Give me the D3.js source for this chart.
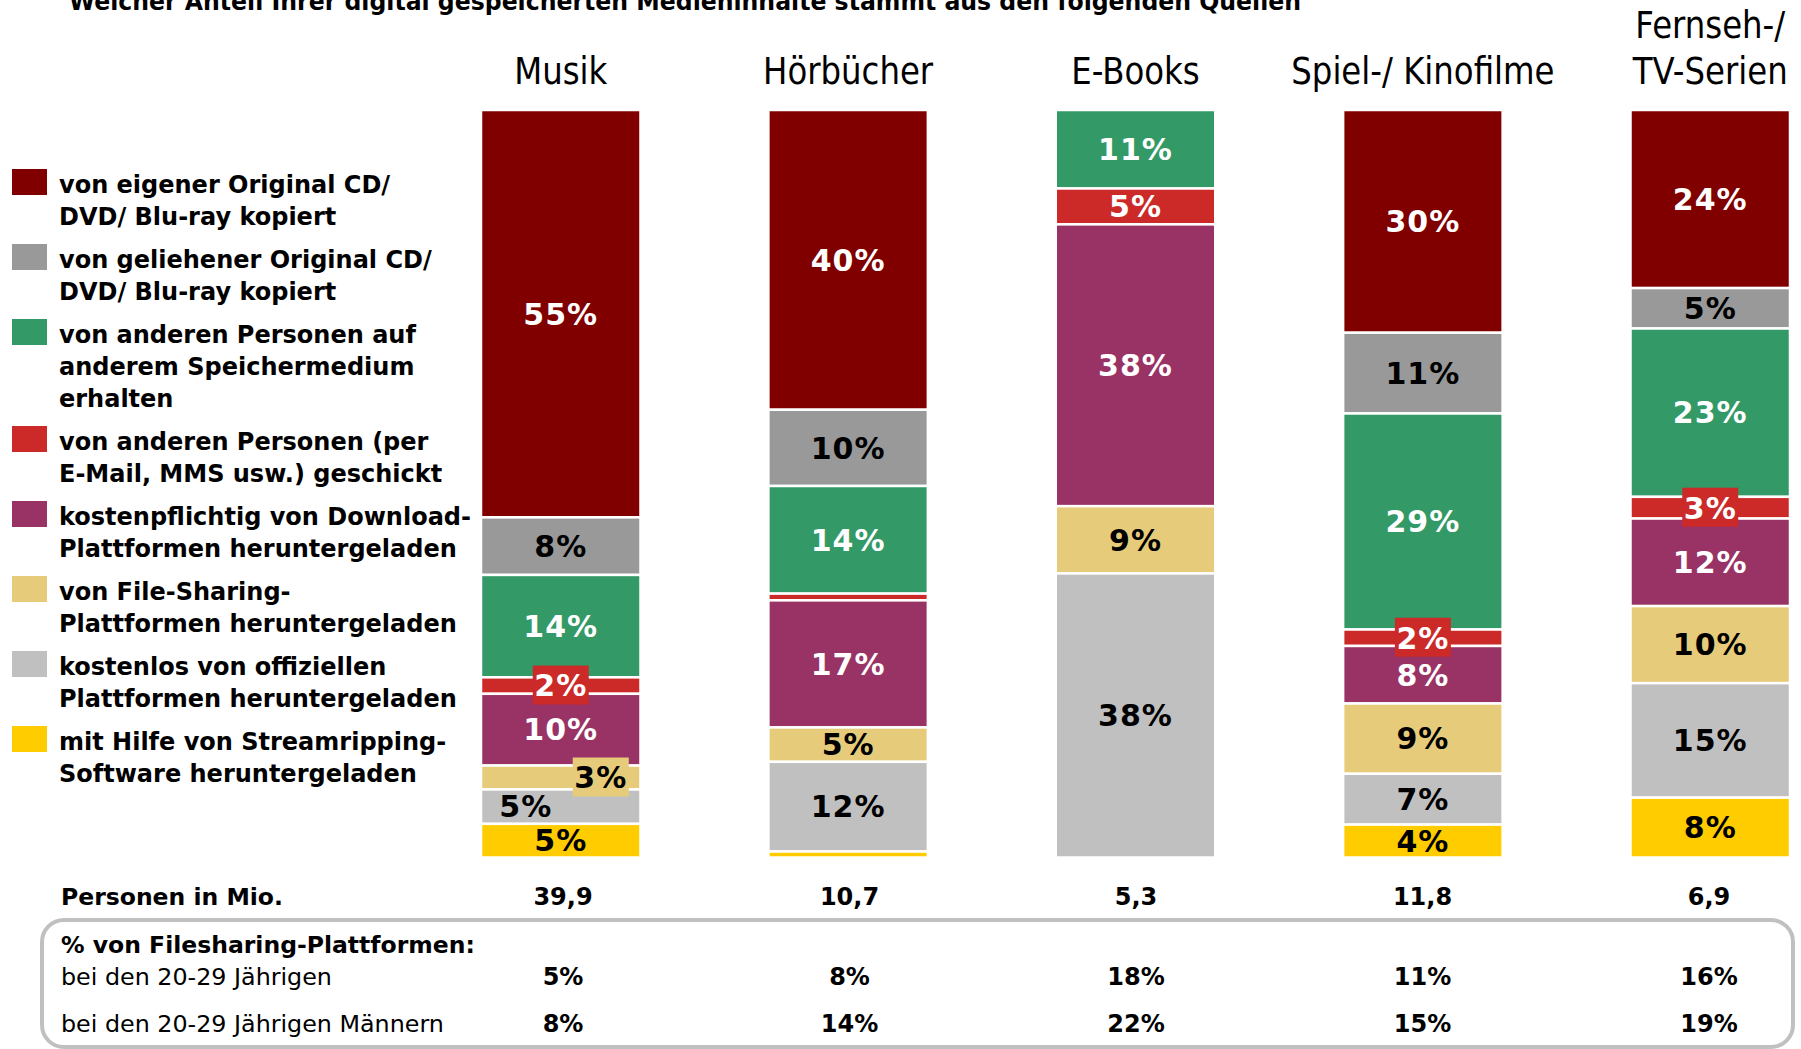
<!DOCTYPE html>
<html>
<head>
<meta charset="utf-8">
<script src="https://cdn.jsdelivr.net/npm/d3@7"></script>
<style>
  body { margin: 0; background: #fff; }
  svg { display: block; font-family: "DejaVu Sans", Verdana, sans-serif; }
</style>
</head>
<body>
<svg id="chart" width="1801" height="1049"></svg>
<script>
// categories (columns) and their title lines
let categories = ["Musik", "Hörbücher", "E-Books", "Spiel-/ Kinofilme", "Fernseh-/ TV-Serien"]
let categoryTitles = [["Musik"], ["Hörbücher"], ["E-Books"], ["Spiel-/ Kinofilme"], ["Fernseh-/", "TV-Serien"]]

// sources, top of the stack first
let sources = ["eigene", "geliehen", "Speichermedium", "geschickt", "kostenpflichtig", "FileSharing", "kostenlos", "Streamripping"]
let sourceLabels = [
    ["von eigener Original CD/", "DVD/ Blu-ray kopiert"],
    ["von geliehener Original CD/", "DVD/ Blu-ray kopiert"],
    ["von anderen Personen auf", "anderem Speichermedium", "erhalten"],
    ["von anderen Personen (per", "E-Mail, MMS usw.) geschickt"],
    ["kostenpflichtig von Download-", "Plattformen heruntergeladen"],
    ["von File-Sharing-", "Plattformen heruntergeladen"],
    ["kostenlos von offiziellen", "Plattformen heruntergeladen"],
    ["mit Hilfe von Streamripping-", "Software heruntergeladen"]
]
let sourceColors = ["#800000", "#999999", "#339966", "#cc2929", "#993366", "#e6cc7a", "#c0c0c0", "#ffcc00"]
let labelColors  = ["#fff", "#000", "#fff", "#fff", "#fff", "#000", "#000", "#000"]

// share in percent per source, one array per category (same order as sources),
// read off the segment heights; labels show the rounded value
let musik       = [54.5, 7.7, 13.7, 2.2, 9.6, 3.2, 4.6, 4.5]
let hoerbuecher = [40.1, 10.2, 14.4, 0.9, 17.0, 4.6, 12.0, 0.8]
let ebooks      = [0, 0, 10.5, 4.8, 37.7, 9.0, 38.0, 0]
let filme       = [29.8, 10.8, 28.9, 2.2, 7.7, 9.4, 6.8, 4.4]
let serien      = [23.8, 5.4, 22.5, 2.9, 11.7, 10.3, 15.3, 8.0]
let values = [musik, hoerbuecher, ebooks, filme, serien]

// table below the bars
let personenMio   = ["39,9", "10,7", "5,3", "11,8", "6,9"]
let fs2029        = ["5%", "8%", "18%", "11%", "16%"]
let fs2029Maenner = ["8%", "14%", "22%", "15%", "19%"]

let title = "Welcher Anteil Ihrer digital gespeicherten Medieninhalte stammt aus den folgenden Quellen"

let svg = d3.select("#chart")

let x = d3.scaleBand()
    .domain(categories)
    .range([481, 1790])
    .paddingInner(0.445)
    .paddingOuter(0)

let y = d3.scaleLinear()
    .domain([0, 1])
    .range([110, 857.5])

let xTable = d3.scalePoint()
    .domain(categories)
    .range([563, 1709])

// stack each column, normalised to 100%
let segments = []
categories.forEach((c, ci) => {
    let vals = values[ci]
    let total = d3.sum(vals)
    let acc = 0
    vals.forEach((v, si) => {
        if (v > 0) segments.push({cat: c, si: si, value: v, y0: acc / total, y1: (acc + v) / total})
        acc += v
    })
})

// label nudges where labels would collide
let nudge = {"Musik|5": 40, "Musik|6": -35}

// title, cut at the top like the original slide
svg.append("text")
    .attr("x", 69).attr("y", 10)
    .attr("textLength", 1232).attr("lengthAdjust", "spacingAndGlyphs")
    .style("font-weight", "bold").style("font-size", "24px")
    .text(title)

// column titles
let heads = svg.selectAll(".head")
    .data(categories)
    .enter()
    .append("text")
        .attr("class", "head")
        .attr("transform", d => "translate(" + (x(d) + x.bandwidth() / 2) + ",0) scale(0.875,1)")
        .attr("text-anchor", "middle")
        .style("font-size", "37px")

heads.selectAll("tspan")
    .data((d, i) => categoryTitles[i].map((t, k, arr) => ({t: t, k: k, n: arr.length})))
    .enter()
    .append("tspan")
        .attr("x", 0)
        .attr("y", d => 84 - (d.n - 1 - d.k) * 46)
        .text(d => d.t)

// bars
svg.selectAll(".seg")
    .data(segments)
    .enter()
    .append("rect")
        .attr("class", "seg")
        .attr("x", d => x(d.cat))
        .attr("width", x.bandwidth())
        .attr("y", d => y(d.y0))
        .attr("height", d => y(d.y1) - y(d.y0))
        .attr("fill", d => sourceColors[d.si])
        .attr("stroke", "#fff")
        .attr("stroke-width", 2.5)

// segment labels
let labeled = segments.filter(d => Math.round(d.value) >= 2)
let lab = svg.selectAll(".lab")
    .data(labeled)
    .enter()
    .append("g")
        .attr("class", "lab")
        .attr("transform", d => {
            let dx = nudge[d.cat + "|" + d.si] || 0
            return "translate(" + (x(d.cat) + x.bandwidth() / 2 + dx) + "," + ((y(d.y0) + y(d.y1)) / 2) + ")"
        })

lab.filter(d => y(d.y1) - y(d.y0) < 28)
    .append("rect")
        .attr("x", -28).attr("y", -20)
        .attr("width", 56).attr("height", 39)
        .attr("fill", d => sourceColors[d.si])

lab.append("text")
    .attr("text-anchor", "middle")
    .attr("dy", "0.36em")
    .style("font-weight", "bold").style("font-size", "30px")
    .style("letter-spacing", "1px")
    .attr("fill", d => labelColors[d.si])
    .text(d => Math.round(d.value) + "%")

// legend
let legTop = 169
let legend = svg.append("g").attr("class", "legend")
sources.forEach((s, i) => {
    let g = legend.append("g").attr("transform", "translate(0," + legTop + ")")
    g.append("rect")
        .attr("x", 12).attr("width", 35).attr("height", 26)
        .attr("fill", sourceColors[i])
    g.selectAll("text")
        .data(sourceLabels[i])
        .enter()
        .append("text")
            .attr("x", 59)
            .attr("y", (d, k) => 24 + k * 32)
            .style("font-weight", "bold").style("font-size", "24px")
            .text(d => d)
    legTop += sourceLabels[i].length * 32 + 11
})

// table
svg.append("text")
    .attr("x", 61).attr("y", 905)
    .style("font-weight", "bold").style("font-size", "23.5px")
    .text("Personen in Mio.")

svg.append("rect")
    .attr("x", 42).attr("y", 920)
    .attr("width", 1751).attr("height", 127)
    .attr("rx", 22).attr("ry", 22)
    .attr("fill", "none")
    .attr("stroke", "#c0c0c0")
    .attr("stroke-width", 4)

svg.append("text")
    .attr("x", 61).attr("y", 953)
    .style("font-weight", "bold").style("font-size", "23.5px")
    .text("% von Filesharing-Plattformen:")

svg.append("text")
    .attr("x", 61).attr("y", 985)
    .style("font-size", "23.8px")
    .text("bei den 20-29 Jährigen")

svg.append("text")
    .attr("x", 61).attr("y", 1032)
    .style("font-size", "23.8px")
    .text("bei den 20-29 Jährigen Männern")

let rows = [[personenMio, 905], [fs2029, 985], [fs2029Maenner, 1032]]
rows.forEach(r => {
    svg.selectAll(null)
        .data(r[0])
        .enter()
        .append("text")
            .attr("x", (d, i) => xTable(categories[i]))
            .attr("y", r[1])
            .attr("text-anchor", "middle")
            .style("font-weight", "bold").style("font-size", "24px")
            .text(d => d)
})
</script>
</body>
</html>
